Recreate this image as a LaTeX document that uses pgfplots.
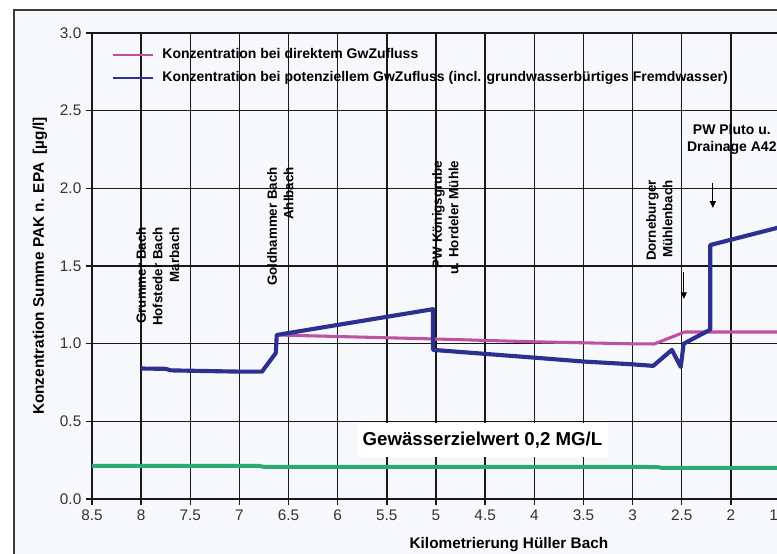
\documentclass[border=0pt]{standalone}
\usepackage{fontspec}
\setmainfont{Liberation Sans}
\usepackage{pgfplots}
\pgfplotsset{compat=1.18}
\usetikzlibrary{calc,arrows.meta}
\pgfdeclarelayer{background}
\pgfsetlayers{background,main}

\definecolor{bgc}{RGB}{246,248,252}
\definecolor{bluec}{RGB}{46,48,145}
\definecolor{pinkc}{RGB}{190,82,160}
\definecolor{greenc}{RGB}{44,170,112}
\definecolor{gridc}{RGB}{25,25,25}
\definecolor{tickc}{RGB}{50,50,50}
\definecolor{framec}{RGB}{60,60,60}

\begin{document}
\begin{tikzpicture}
\begin{axis}[name=ax, at={(0,0)}, anchor=south west,
  scale only axis, width=516pt, height=349.5pt,
  x dir=reverse, xmin=1.5, xmax=8.5, ymin=0, ymax=3,
  xtick={1.5,2,2.5,3,3.5,4,4.5,5,5.5,6,6.5,7,7.5,8,8.5},
  ytick={0,0.5,1,1.5,2,2.5,3},
  y tick label style={/pgf/number format/.cd, fixed, fixed zerofill, precision=1, /tikz/.cd},
  /pgf/number format/assume math mode=true,
  tick label style={font=\fontsize{11.5}{13}\selectfont, text=tickc},
  grid=major, major grid style={draw=gridc, line width=1.05pt},
  axis line style={draw=gridc, line width=1.05pt},
  tick align=outside, major tick length=4.5pt, tick style={draw=gridc, line width=1.05pt},
  xtick pos=bottom, ytick pos=left,
  axis background/.style={fill=bgc},
  clip=false,
  xlabel={Kilometrierung Hüller Bach},
  ylabel={Konzentration Summe PAK n. EPA~~[µg/l]},
  xlabel style={at={(axis description cs:0.606,-0.0987)}, anchor=center, font=\fontsize{11.5}{13}\selectfont\bfseries},
  ylabel style={at={(axis description cs:-0.0756,0.5)}, anchor=center, rotate=0, font=\fontsize{11.5}{13}\selectfont\bfseries},
  legend style={draw=none, fill=none, at={(axis description cs:0,1)}, anchor=north west,
    xshift=12pt, yshift=-8pt, font=\fontsize{10.5}{12}\selectfont\bfseries,
    row sep=4.75pt, nodes={inner sep=1pt, text height=8pt, text depth=2.5pt},
    /tikz/every odd column/.append style={column sep=5pt}},
  legend cell align=left,
  legend image code/.code={\draw[#1, line width=1.6pt] (0pt,0pt) -- (30pt,0pt);},
]
% direct groundwater inflow (pink)
\addplot[pinkc, line width=2.3pt, line join=round] coordinates {
 (6.62,1.056) (5.0,1.03) (4.0,1.012) (3.0,0.999) (2.78,0.998) (2.47,1.075) (1.5,1.075)};
\addlegendentry{Konzentration bei direktem GwZufluss}
% potential groundwater inflow (blue)
\addplot[bluec, line width=3.1pt, line join=round] coordinates {
 (8.0,0.84) (7.75,0.838) (7.7,0.828) (7.0,0.82) (6.77,0.82) (6.63,0.94) (6.62,1.056)
 (5.03,1.222) (5.03,0.96) (4.0,0.91) (3.5,0.885) (3.0,0.867) (2.79,0.857)
 (2.60,0.96) (2.51,0.85) (2.48,1.0) (2.21,1.09) (2.21,1.635) (1.5,1.75)};
\addlegendentry{Konzentration bei potenziellem GwZufluss (incl. grundwasserbürtiges Fremdwasser)}
% target value (green)
\addplot[greenc, line width=3pt, forget plot] coordinates {
 (8.5,0.214) (6.8,0.213) (6.75,0.207) (2.75,0.206) (2.7,0.200) (1.5,0.200)};

\node[fill=white, inner xsep=4pt, minimum height=25.5pt, font=\fontsize{14}{16}\selectfont\bfseries]
  at (axis cs:4.527,0.38) {Gewässerzielwert 0,2 MG/L};

\tikzset{lab/.style={rotate=90, align=right, anchor=north east, inner sep=0pt, font=\fontsize{10}{12.4}\selectfont\bfseries}}
\node[lab] at (axis cs:8.052,1.751) {Grummer Bach\\Hofsteder Bach\\Marbach};
\node[lab] at (axis cs:6.72,2.138) {Goldhammer Bach\\Ahlbach};
\node[lab] at (axis cs:5.041,2.18) {PW Königsgrube\\u. Hordeler Mühle};
\node[lab] at (axis cs:2.864,2.054) {Dorneburger\\Mühlenbach};
\node[align=center, inner sep=0pt, font=\fontsize{10.5}{12.8}\selectfont\bfseries]
  at (axis cs:1.99,2.312) {PW Pluto u.\\Drainage A42};
\draw[-{Triangle[length=5pt,width=4.5pt]}, line width=0.8pt] (axis cs:2.183,2.035) -- (axis cs:2.183,1.874);
\draw[-{Triangle[length=5pt,width=4.5pt]}, line width=0.8pt] (axis cs:2.478,1.462) -- (axis cs:2.478,1.288);
\end{axis}
\begin{pgfonlayer}{background}
\fill[white] ($(ax.south west)+(-69pt,-40.5pt)$) rectangle ($(ax.south west)+(513.75pt,374.25pt)$);
\filldraw[fill=bgc, draw=framec, line width=0.8pt] ($(ax.south west)+(-58.5pt,-70pt)$) rectangle ($(ax.south west)+(540pt,366.75pt)$);
\end{pgfonlayer}
\pgfresetboundingbox
\path ($(ax.south west)+(-69pt,-40.5pt)$) rectangle ($(ax.south west)+(513.75pt,374.25pt)$);
\end{tikzpicture}
\end{document}
